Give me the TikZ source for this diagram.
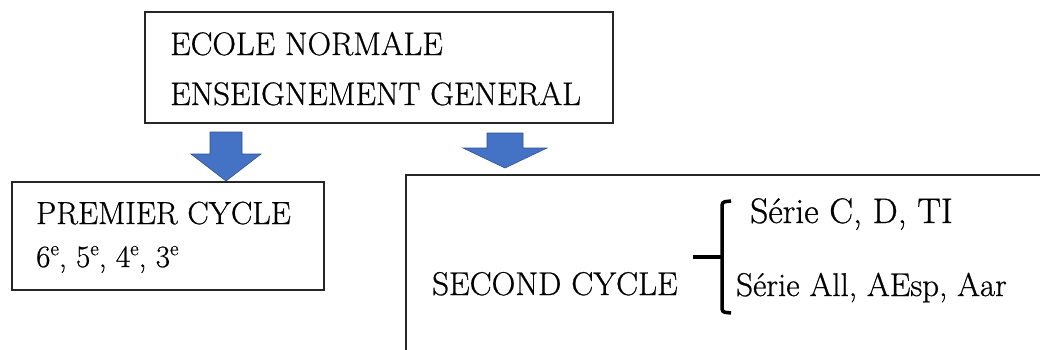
\documentclass[tikz,border=0pt]{standalone}
\usepackage{fontspec}
\setmainfont{lmroman17-regular.otf}[FakeBold=0.7]
\newcommand\supe{\raisebox{0.38em}{\fontsize{21}{21}\selectfont e}}
\definecolor{arrowblue}{HTML}{4472C4}
\definecolor{arrowedge}{HTML}{2F528F}
\begin{document}
\begin{tikzpicture}[x=1pt,y=-1pt,
  box/.style={draw=black!85, line width=1.6pt, inner sep=0pt, anchor=north west},
  label/.style={anchor=base west, inner sep=0pt, font=\fontsize{32.6}{39}\selectfont},
  blockarrow/.style={fill=arrowblue, draw=arrowedge, line width=0.6pt, line join=miter},
  bracket/.style={line width=3.5pt, black}]
\useasboundingbox (0,0) rectangle (1040,349);
\clip (0,0) rectangle (1040,349);

% frames
\node[box, minimum width=468pt, minimum height=111pt] (top) at (144,11) {};
\node[box, minimum width=312pt, minimum height=108pt] (premier) at (11,181) {};
\node[box, minimum width=660pt, minimum height=200pt] (second) at (405,174) {};

% headings and contents
\node[label] (ecole) at (170,55) {ECOLE NORMALE};
\node[label] (ens) at (170,105) {ENSEIGNEMENT GENERAL};
\node[label, font=\fontsize{32}{38}\selectfont] (pc) at (36,224) {PREMIER CYCLE};
\node[label, font=\fontsize{31}{37}\selectfont] (grades) at (36,267)
  {6\supe, 5\supe, 4\supe, 3\supe};
\node[label, font=\fontsize{32.9}{39}\selectfont] (sc) at (432,295) {SECOND CYCLE};
\node[label, font=\fontsize{35.5}{42}\selectfont] (s1) at (750,223) {Série C, D, TI};
\node[label, font=\fontsize{32.9}{39}\selectfont] (s2) at (736,296) {Série All, AEsp, Aar};

% block arrows, drawn from their tips
\coordinate (tipL) at (226,181);
\coordinate (tipR) at (505,168);
\draw[blockarrow, shift={(tipL)}]
  (-16,-49) -- (16,-49) -- (16,-27) -- (35,-27) -- (0,0) -- (-35,-27) -- (-16,-27) -- cycle;
\draw[blockarrow, shift={(tipR)}]
  (-18,-35) -- (18,-35) -- (18,-20) -- (42,-20) -- (0,0) -- (-42,-20) -- (-18,-20) -- cycle;

% bracket joining the second cycle to its series
\coordinate (stub) at (693,257);
\coordinate (brace) at (722,257);
\draw[bracket] (stub) -- (brace);
\draw[bracket, rounded corners=3pt] (731,201) -- (722,202) -- (722,312) -- (731,313);
\end{tikzpicture}
\end{document}
